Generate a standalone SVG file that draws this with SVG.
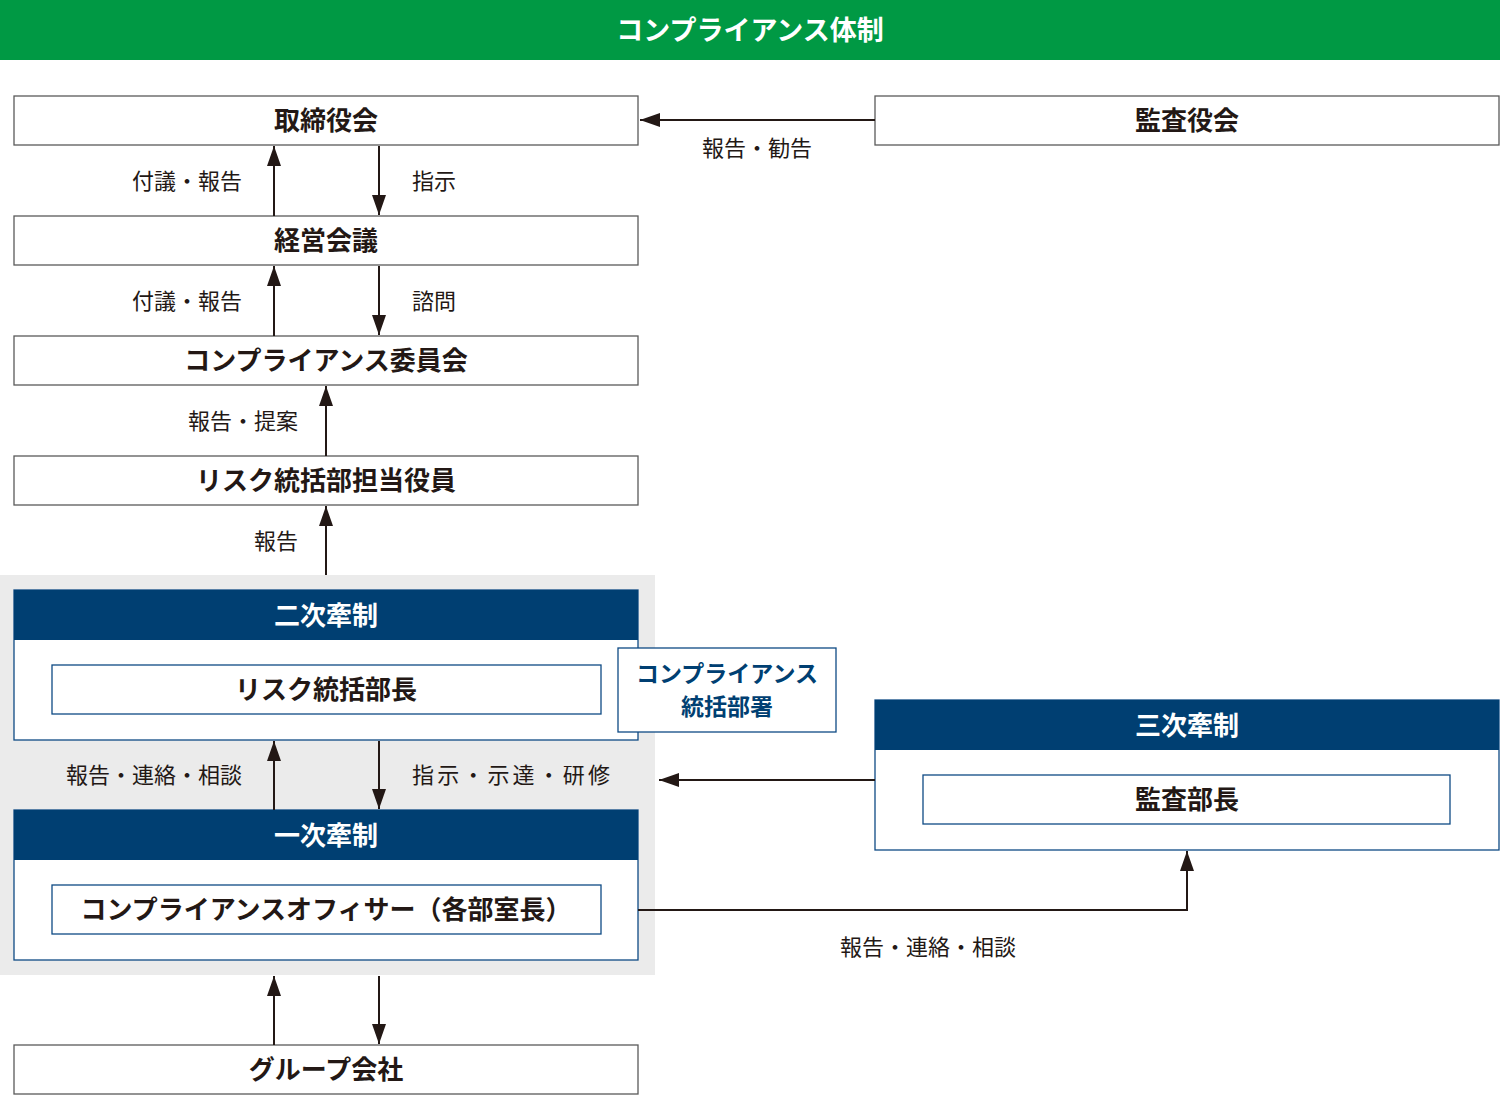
<svg xmlns="http://www.w3.org/2000/svg" width="1500" height="1095" viewBox="0 0 1500 1095">
<defs>
<style>
text{font-family:"Noto Sans CJK JP","Noto Sans",sans-serif;}
.box{fill:#fff;stroke:#5a5a5a;stroke-width:1.3;}
.bbox{fill:#fff;stroke:#0e4a84;stroke-width:1.3;}
.hdr{fill:#003f72;}
.t{font-size:26px;font-weight:700;fill:#231815;text-anchor:middle;}
.w{font-size:26px;font-weight:700;fill:#fff;text-anchor:middle;}
.lbl{font-size:22px;fill:#231815;}
.ln{stroke:#231815;stroke-width:2;fill:none;}
</style>
<marker id="ah" viewBox="0 0 20 14" refX="20" refY="7" markerWidth="20" markerHeight="14" markerUnits="userSpaceOnUse" orient="auto">
<path d="M0,0 L20,7 L0,14 Z" fill="#231815"/>
</marker>
</defs>
<rect width="1500" height="1095" fill="#fff"/>
<g id="banner">
<rect x="0" y="0" width="1500" height="60" fill="#009944"/>
<text x="750" y="40" class="w" style="font-size:27px">コンプライアンス体制</text>
</g>
<rect id="bg-gray" x="0" y="575" width="655" height="400" fill="#ebebeb"/>
<g id="n-board"><rect class="box" x="14" y="96" width="624" height="49"/><text class="t" x="326" y="130">取締役会</text></g>
<g id="n-auditors"><rect class="box" x="875" y="96" width="624" height="49"/><text class="t" x="1187" y="130">監査役会</text></g>
<g id="n-mgmt"><rect class="box" x="14" y="216" width="624" height="49"/><text class="t" x="326" y="250">経営会議</text></g>
<g id="n-committee"><rect class="box" x="14" y="336" width="624" height="49"/><text class="t" x="326" y="370">コンプライアンス委員会</text></g>
<g id="n-officer"><rect class="box" x="14" y="456" width="624" height="49"/><text class="t" x="326" y="490">リスク統括部担当役員</text></g>
<g id="n-second">
<rect class="bbox" x="14" y="590" width="624" height="150"/>
<rect class="hdr" x="14" y="590" width="624" height="50"/>
<text class="w" x="326" y="625">二次牽制</text>
<rect class="bbox" x="52" y="665" width="549" height="49"/>
<text class="t" x="326" y="699">リスク統括部長</text>
</g>
<g id="n-dept">
<rect class="bbox" x="618" y="648" width="218" height="84"/>
<text class="t" x="727" y="682" style="fill:#003f72;font-size:23px">コンプライアンス</text>
<text class="t" x="727" y="715" style="fill:#003f72;font-size:23px">統括部署</text>
</g>
<g id="n-first">
<rect class="bbox" x="14" y="810" width="624" height="150"/>
<rect class="hdr" x="14" y="810" width="624" height="50"/>
<text class="w" x="326" y="845">一次牽制</text>
<rect class="bbox" x="52" y="885" width="549" height="49"/>
<text class="t" x="326" y="919">コンプライアンスオフィサー（各部室長）</text>
</g>
<g id="n-third">
<rect class="bbox" x="875" y="700" width="624" height="150"/>
<rect class="hdr" x="875" y="700" width="624" height="50"/>
<text class="w" x="1187" y="735">三次牽制</text>
<rect class="bbox" x="923" y="775" width="527" height="49"/>
<text class="t" x="1187" y="809">監査部長</text>
</g>
<g id="n-group"><rect class="box" x="14" y="1045" width="624" height="49"/><text class="t" x="326" y="1079">グループ会社</text></g>
<g id="connectors">
<line class="ln" x1="875" y1="120" x2="640" y2="120" marker-end="url(#ah)"/>
<line class="ln" x1="274" y1="216" x2="274" y2="146" marker-end="url(#ah)"/>
<line class="ln" x1="379" y1="146" x2="379" y2="215" marker-end="url(#ah)"/>
<line class="ln" x1="274" y1="336" x2="274" y2="266" marker-end="url(#ah)"/>
<line class="ln" x1="379" y1="266" x2="379" y2="335" marker-end="url(#ah)"/>
<line class="ln" x1="326" y1="456" x2="326" y2="386" marker-end="url(#ah)"/>
<line class="ln" x1="326" y1="575" x2="326" y2="506" marker-end="url(#ah)"/>
<line class="ln" x1="274" y1="810" x2="274" y2="741" marker-end="url(#ah)"/>
<line class="ln" x1="379" y1="741" x2="379" y2="809" marker-end="url(#ah)"/>
<line class="ln" x1="875" y1="780" x2="659" y2="780" marker-end="url(#ah)"/>
<polyline class="ln" points="638,910 1187,910 1187,851" marker-end="url(#ah)"/>
<line class="ln" x1="274" y1="1045" x2="274" y2="976" marker-end="url(#ah)"/>
<line class="ln" x1="379" y1="976" x2="379" y2="1044" marker-end="url(#ah)"/>
<text class="lbl" x="757" y="156" text-anchor="middle">報告・勧告</text>
<text class="lbl" x="242" y="189" text-anchor="end">付議・報告</text>
<text class="lbl" x="412" y="189">指示</text>
<text class="lbl" x="242" y="309" text-anchor="end">付議・報告</text>
<text class="lbl" x="412" y="309">諮問</text>
<text class="lbl" x="298" y="429" text-anchor="end">報告・提案</text>
<text class="lbl" x="298" y="549" text-anchor="end">報告</text>
<text class="lbl" x="242" y="783" text-anchor="end">報告・連絡・相談</text>
<text class="lbl" x="412" y="783" textLength="198">指示・示達・研修</text>
<text class="lbl" x="928" y="955" text-anchor="middle">報告・連絡・相談</text>
</g>
</svg>
